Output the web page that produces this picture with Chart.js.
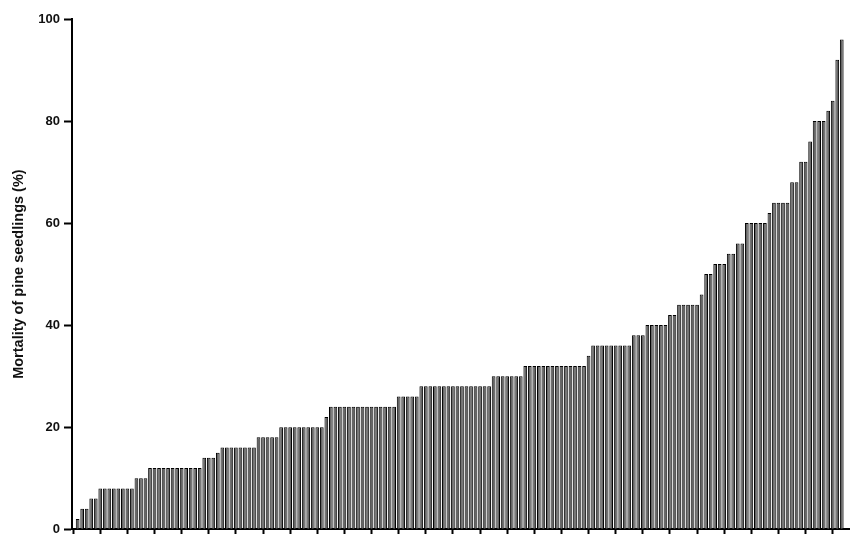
<!DOCTYPE html>
<html>
<head>
<meta charset="utf-8">
<title>Mortality of pine seedlings</title>
<script src="https://cdn.jsdelivr.net/npm/chart.js@4.4.1/dist/chart.umd.min.js"></script>
<style>
  html, body { margin: 0; padding: 0; background: #fff; overflow: hidden; }
  #wrap { width: 850px; height: 541px; position: relative; }
</style>
</head>
<body>
<div id="wrap"><canvas id="mortality-chart"></canvas></div>
<script>
// mortality (%) per plot, sorted ascending as in the figure
const mortality = [
  2, 4, 4, 6, 6, 8, 8, 8, 8, 8, 8, 8, 8, 10, 10, 10,
  12, 12, 12, 12, 12, 12, 12, 12, 12, 12, 12, 12,
  14, 14, 14, 15, 16, 16, 16, 16, 16, 16, 16, 16,
  18, 18, 18, 18, 18, 20, 20, 20, 20, 20, 20, 20, 20, 20, 20,
  22, 24, 24, 24, 24, 24, 24, 24, 24, 24, 24, 24, 24, 24, 24, 24,
  26, 26, 26, 26, 26,
  28, 28, 28, 28, 28, 28, 28, 28, 28, 28, 28, 28, 28, 28, 28, 28,
  30, 30, 30, 30, 30, 30, 30,
  32, 32, 32, 32, 32, 32, 32, 32, 32, 32, 32, 32, 32, 32,
  34, 36, 36, 36, 36, 36, 36, 36, 36, 36,
  38, 38, 38, 40, 40, 40, 40, 40, 42, 42, 44, 44, 44, 44, 44, 46,
  50, 50, 52, 52, 52, 54, 54, 56, 56, 60, 60, 60, 60, 60, 62,
  64, 64, 64, 64, 68, 68, 72, 72, 76, 80, 80, 80, 82, 84, 92, 96
];
const yTicks = [0, 20, 40, 60, 80, 100];
const xTickEvery = 6;

const points = mortality.map((v, i) => ({ x: i, y: v }));
const xTickValues = [];
for (let t = -1; t < mortality.length; t += xTickEvery) xTickValues.push(t);

const ctx = document.getElementById('mortality-chart');

new Chart(ctx, {
  type: 'bar',
  data: {
    datasets: [{
      label: 'Mortality of pine seedlings (%)',
      data: points,
      backgroundColor: '#666666',
      borderColor: '#000',
      borderWidth: 1,
      barPercentage: 1,
      categoryPercentage: 0.82
    }]
  },
  options: {
    responsive: true,
    maintainAspectRatio: false,
    animation: false,
    layout: { padding: { top: 19, right: 1, left: 0, bottom: 0 } },
    scales: {
      x: {
        type: 'linear',
        offset: false,
        min: -1.25,
        max: 170.6,
        border: { display: true, color: '#000', width: 2 },
        grid: { offset: false, drawOnChartArea: false, drawTicks: true, tickLength: 6, tickWidth: 2, color: '#000' },
        ticks: { display: false },
        afterBuildTicks: function (scale) {
          scale.ticks = xTickValues.map(v => ({ value: v }));
        },
        afterFit: function (scale) { scale.height = 5; }
      },
      y: {
        min: 0,
        max: 100,
        border: { display: true, color: '#000', width: 2 },
        grid: { drawOnChartArea: false, drawTicks: true, tickLength: 8, tickWidth: 2, color: '#000' },
        afterBuildTicks: function (scale) {
          scale.ticks = yTicks.map(v => ({ value: v }));
        },
        ticks: {
          color: '#111',
          padding: 4,
          font: { family: 'Liberation Sans, Arial, sans-serif', size: 13, weight: 'bold' }
        },
        title: {
          display: true,
          text: 'Mortality of pine seedlings (%)',
          color: '#111',
          padding: { top: 10, bottom: 0 },
          font: { family: 'Liberation Sans, Arial, sans-serif', size: 14.5, weight: 'bold' }
        },
        afterFit: function (scale) { scale.width = 72; }
      }
    },
    plugins: {
      legend: { display: false },
      tooltip: { enabled: false }
    }
  }
});
</script>
</body>
</html>
